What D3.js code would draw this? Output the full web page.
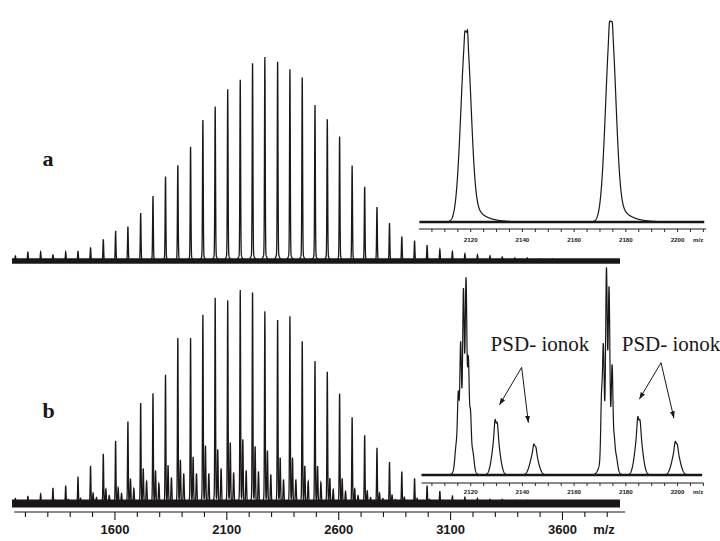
<!DOCTYPE html>
<html><head><meta charset="utf-8">
<script src="https://cdn.jsdelivr.net/npm/d3@7"></script>
<style>body{margin:0;background:#fff}svg{display:block}</style>
</head><body>
<svg id="c" width="720" height="541"></svg>
<script>
// ---------- data ----------
const peakMz = [1155,1211,1268,1323,1380,1435,1491,1548,1603,1658,1715,1770,1826,1881,1938,1993,2048,2104,2160,2215,2270,2327,2382,2437,2494,2549,2604,2660,2716,2771,2827,2882,2939,2995,3052,3108,3164,3220,3276,3331,3387,3443,3499,3555];
const intensityA = [5,8.7,8.7,6,8.7,9.3,12.7,21,28.7,33.3,46,62.7,81.7,92.7,110.3,136.7,149.3,166,175,192,197,193.3,185.3,178,150.7,137.3,120.3,92.3,71.7,52,36.3,23.7,19.3,15,11,9,7,6,5,4,3,3,2,2];
const intensityB = [5,7,9,14.7,17.3,25.7,36.3,48.3,60.7,79.7,97.7,107,125,161.3,160.7,184,199.7,197.3,207.3,205.7,186.7,179,181.7,158,138.3,128.3,106.7,83.7,66.3,54,40,31,24,17,12,7,6,5,4,4,3,3,2,2];
// PSD fragment satellites in spectrum b (offsets +11.5 and +26.5 m/z)
const psdOffset = [11.5, 26.5];
const psd1B = [1,2,2,3,4,5,10,14,15,24,34,32,37,42,45,56,52,59,62,55,51,44,44,36,36,24,24,14,12,10,8,6,5,4,3,2,2,2,1,1,1,1,0,0];
const psd2B = [1,1,2,2,3,3,6,8,10,15,22,20,26,30,30,30,35,31,33,32,29,24,24,22,21,14,12,8,6,5,4,3,3,2,2,1,1,1,1,0,0,0,0,0];
const mainTicks = [1600,2100,2600,3100,3600];
const mainMinorTicks = d3.range(1200, 3801, 100);
const insetTicks = [2120,2140,2160,2180,2200];
const insetMinorTicks = d3.range(2105, 2211, 5);

// inset a: peak components  (m/z, height, sigma left, sigma right, tail)
const insetAMz   = [2118.2, 2117.7, 2118.8, 2174.2, 2173.6, 2174.8];
const insetAInt  = [190, 6, 9, 201, 7, 6];
const insetASigL = [1.95, 0.18, 0.18, 1.95, 0.18, 0.18];
const insetASigR = [1.75, 0.18, 0.18, 1.75, 0.18, 0.18];
const insetATail = [38, 0, 0, 40, 0, 0];

// inset b: peak components (m/z, height, sigma)
const insetBMz  = [2117.5,2114.4,2115.2,2116.1,2117.2,2118.2,2119.1,2119.9,2120.8,
                   2129.8,2129.4,2130.3, 2144.6,2144.4,2145.2,
                   2173.0,2170.6,2171.3,2172.5,2173.5,2174.7,2175.5,2176.3,
                   2185.0,2184.6,2185.5, 2199.4,2199.1,2199.9];
const insetBInt = [50,20,55,96,137,150,82,40,15,
                   45,12,10, 25,6,5,
                   50,57,96,159,140,78,16,10,
                   48,12,10, 27,7,5];
const insetBSig = [1.8,0.5,0.3,0.3,0.3,0.3,0.3,0.3,0.5,
                   1.3,0.3,0.3, 1.4,0.3,0.3,
                   1.8,0.3,0.3,0.3,0.3,0.3,0.3,0.5,
                   1.3,0.3,0.3, 1.4,0.3,0.3];

const labelPanels = ["a","b"];
const psdText = "PSD- ionok";
const psdNotes = [
  {textMz:2127.7, apex:[2139.7,107.7], tips:[[2131.1,70],[2142.3,52.3]]},
  {textMz:2178.4, apex:[2193.6,112.3], tips:[[2185.2,75.7],[2198.6,56.7]]}
];
const psdTextH = 124;

// ---------- scales ----------
const svg = d3.select("#c");
const ink = "#1b1717";
const x = d3.scaleLinear().domain([1140, 3866]).range([12, 622]);
const yA = d3.scaleLinear().domain([0, 200]).range([261, 61]);
const yB = d3.scaleLinear().domain([0, 200]).range([503.5, 303.5]);
const xi = d3.scaleLinear().domain([2100, 2211]).range([419, 706]);
const yIA = d3.scaleLinear().domain([0, 200]).range([222, 22]);
const yIB = d3.scaleLinear().domain([0, 200]).range([475, 275]);

function gauss(d, s){ return Math.exp(-d*d/(2*s*s)); }

const step = 0.4, mStart = 1140, mEnd = 3857;
const N = Math.round((mEnd - mStart)/step) + 1;
const specA = new Float64Array(N), specB = new Float64Array(N);
function addPeak(arr, c, h, s, foot){
  const i0 = Math.max(0, Math.floor((c - 40 - mStart)/step)), i1 = Math.min(N-1, Math.ceil((c + 40 - mStart)/step));
  for (let i=i0;i<=i1;i++){ const m = mStart + i*step; arr[i] += h*gauss(m-c, s) + foot*h*gauss(m-c, 8); }
}
peakMz.forEach((c,k)=>{
  addPeak(specA, c, intensityA[k], 1.6, 0.035);
  addPeak(specB, c, intensityB[k], 1.6, 0.03);
  addPeak(specB, c+psdOffset[0], psd1B[k], 1.8, 0.0);
  addPeak(specB, c+psdOffset[1], psd2B[k], 2.0, 0.0);
});
const ptsA = Array.from(specA, (v,i)=>[mStart+i*step, v]);
const ptsB = Array.from(specB, (v,i)=>[mStart+i*step, v]);

svg.append("line").attr("x1", x(mStart)).attr("x2", x(mEnd)).attr("y1", yA(0)).attr("y2", yA(0))
  .attr("stroke", ink).attr("stroke-width", 5.5);
svg.append("line").attr("x1", x(mStart)).attr("x2", x(mEnd)).attr("y1", yB(0)).attr("y2", yB(0))
  .attr("stroke", ink).attr("stroke-width", 8);

svg.append("path").datum(ptsA)
  .attr("d", d3.line().x(d=>x(d[0])).y(d=>yA(d[1])))
  .attr("fill","none").attr("stroke", ink).attr("stroke-width", 1.3);
svg.append("path").datum(ptsB)
  .attr("d", d3.line().x(d=>x(d[0])).y(d=>yB(d[1])))
  .attr("fill","none").attr("stroke", ink).attr("stroke-width", 1.3);

// main axis
const axisY = 512;
const gAx = svg.append("g").attr("transform", `translate(0,${axisY})`);
gAx.append("line").attr("x1", x(1150)).attr("x2", x(3880)).attr("stroke", ink).attr("stroke-width", 1.2);
gAx.selectAll("line.minor").data(mainMinorTicks).join("line").attr("class","minor")
  .attr("x1", d=>x(d)).attr("x2", d=>x(d)).attr("y1", 0)
  .attr("y2", d=> mainTicks.includes(d) ? 8 : 5)
  .attr("stroke", ink).attr("stroke-width", 1.1);
gAx.selectAll("text").data(mainTicks).join("text")
  .attr("x", d=>x(d)).attr("y", 21.5).attr("text-anchor","middle")
  .attr("font-family","Liberation Sans, Arial, sans-serif").attr("font-weight","bold").attr("font-size", 13)
  .attr("fill", ink).text(d=>d);
svg.append("text").attr("x", 604).attr("y", axisY+21.5).attr("text-anchor","middle")
  .attr("font-family","Liberation Sans, Arial, sans-serif").attr("font-weight","bold").attr("font-size", 13)
  .attr("fill", ink).text("m/z");

// panel letters
svg.append("text").attr("x", 42.5).attr("y", 165.7).text(labelPanels[0])
  .attr("font-family","Liberation Serif, serif").attr("font-weight","bold").attr("font-size", 22).attr("fill", ink);
svg.append("text").attr("x", 42.5).attr("y", 418.3).text(labelPanels[1])
  .attr("font-family","Liberation Serif, serif").attr("font-weight","bold").attr("font-size", 22).attr("fill", ink);

// ---------- insets ----------
const iStep = 0.05;
function insetSpectrum(m0, m1, f){ const out=[]; for (let m=m0; m<=m1+1e-9; m+=iStep) out.push([m, f(m)]); return out; }
const fA = m => {
  let v = 0;
  insetAMz.forEach((c,k)=>{
    const d = m - c;
    v += insetAInt[k]*gauss(d, d<0 ? insetASigL[k] : insetASigR[k]);
    if (insetATail[k] && d>0) v += insetATail[k]*Math.exp(-d/4)*(1-Math.exp(-(d/2)*(d/2)));
  });
  return v;
};
const fB = m => { let v=0; insetBMz.forEach((c,k)=>{ v += insetBInt[k]*gauss(m-c, insetBSig[k]); }); return v; };

function drawInset(ySc, axisYi, f, m0, m1, axM0, axM1, labY){
  svg.append("line").attr("x1", xi(m0)).attr("x2", xi(m1)).attr("y1", ySc(0)).attr("y2", ySc(0))
    .attr("stroke", ink).attr("stroke-width", 2.6);
  svg.append("path").datum(insetSpectrum(m0, m1, f))
    .attr("d", d3.line().x(d=>xi(d[0])).y(d=>ySc(d[1])))
    .attr("fill","none").attr("stroke", ink).attr("stroke-width", 1.2);
  const g = svg.append("g").attr("transform", `translate(0,${axisYi})`);
  g.append("line").attr("x1", xi(axM0)).attr("x2", xi(axM1)).attr("stroke", ink).attr("stroke-width", 1);
  g.selectAll("line.t").data(insetMinorTicks).join("line").attr("class","t")
    .attr("x1", d=>xi(d)).attr("x2", d=>xi(d)).attr("y1", 0).attr("y2", 3)
    .attr("stroke", ink).attr("stroke-width", 0.9);
  g.selectAll("text").data(insetTicks).join("text")
    .attr("x", d=>xi(d)).attr("y", labY).attr("text-anchor","middle")
    .attr("font-family","Liberation Sans, Arial, sans-serif").attr("font-weight","bold").attr("font-size", 6.2)
    .attr("fill", ink).text(d=>d);
  g.append("text").attr("x", xi(2208)).attr("y", labY).attr("text-anchor","middle")
    .attr("font-family","Liberation Sans, Arial, sans-serif").attr("font-weight","bold").attr("font-size", 6.2)
    .attr("fill", ink).text("m/z");
}
drawInset(yIA, 229, fA, 2100.2, 2210.3, 2100, 2211, 13);
drawInset(yIB, 483, fB, 2101, 2209.5, 2101, 2210, 11);

// PSD annotations
svg.append("defs").append("marker").attr("id","ah").attr("viewBox","0 0 10 10")
  .attr("refX", 10).attr("refY", 5).attr("markerWidth", 7).attr("markerHeight", 7)
  .attr("markerUnits","userSpaceOnUse").attr("orient","auto")
  .append("path").attr("d","M0,1.5 L10,5 L0,8.5 Z").attr("fill", ink);
psdNotes.forEach(n=>{
  svg.append("text").attr("x", xi(n.textMz)).attr("y", yIB(psdTextH)).text(psdText)
    .attr("font-family","Liberation Serif, serif").attr("font-size", 21).attr("fill", ink);
  n.tips.forEach(t=>{
    svg.append("line").attr("x1", xi(n.apex[0])).attr("y1", yIB(n.apex[1]))
      .attr("x2", xi(t[0])).attr("y2", yIB(t[1]))
      .attr("stroke", ink).attr("stroke-width", 1).attr("marker-end","url(#ah)");
  });
});
</script>
</body></html>
